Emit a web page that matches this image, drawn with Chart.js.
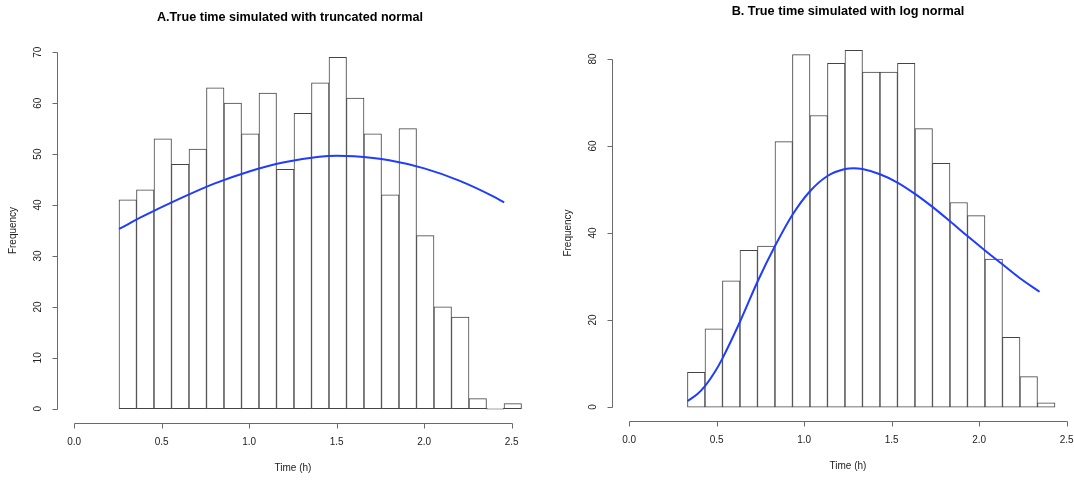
<!DOCTYPE html>
<html>
<head>
<meta charset="utf-8">
<script src="https://cdn.jsdelivr.net/npm/chart.js@4.4.1/dist/chart.umd.min.js"></script>
<style>
  body { margin: 0; background: #fff; }
  .wrap { position: relative; width: 1074px; height: 480px; overflow: hidden; }
  canvas { position: absolute; top: 0; }
</style>
</head>
<body>
<div class="wrap">
  <canvas id="histA" width="537" height="480" style="left:0"></canvas>
  <canvas id="histB" width="548" height="480" style="left:537px"></canvas>
</div>
<script>
// tick labels
const xTicks = [0, 0.5, 1.0, 1.5, 2.0, 2.5];
const truncYTicks = [0, 10, 20, 30, 40, 50, 60, 70];
const logYTicks = [0, 20, 40, 60, 80];

// A: truncated normal
const truncBreaks = [0.256, 0.356, 0.456, 0.556, 0.656, 0.756, 0.856, 0.956, 1.056, 1.156, 1.256, 1.356,
                     1.456, 1.556, 1.656, 1.756, 1.856, 1.956, 2.056, 2.156, 2.256, 2.356, 2.456, 2.556];
const truncCounts = [41, 43, 53, 48, 51, 63, 60, 54, 62, 47, 58, 64, 69, 61, 54, 42, 55, 34, 20, 18, 2, 0, 1];
const truncCurveX = [0.256, 0.4, 0.6, 0.8, 1.0, 1.2, 1.4, 1.5, 1.6, 1.8, 2.0, 2.2, 2.4, 2.457];
const truncCurveY = [35.3, 37.9, 41.2, 44.2, 46.6, 48.4, 49.5, 49.7, 49.6, 48.8, 47.2, 44.8, 41.6, 40.5];

// B: log normal
const logBreaks = [0.333, 0.433, 0.533, 0.633, 0.733, 0.833, 0.933, 1.033, 1.133, 1.233, 1.333,
                   1.433, 1.533, 1.633, 1.733, 1.833, 1.933, 2.033, 2.133, 2.233, 2.333, 2.433];
const logCounts = [8, 18, 29, 36, 37, 61, 81, 67, 79, 82, 77, 77, 79, 64, 56, 47, 44, 34, 16, 7, 1];
const logCurveX = [0.333, 0.39, 0.433, 0.49, 0.533, 0.633, 0.733, 0.833, 0.933, 1.033, 1.133, 1.233, 1.284,
                   1.333, 1.433, 1.533, 1.633, 1.733, 1.833, 1.933, 2.033, 2.133, 2.233, 2.345];
const logCurveY = [1.4, 3.0, 4.8, 8.1, 11.2, 19.6, 28.8, 37.0, 44.2, 49.6, 53.1, 54.7, 54.9,
                   54.7, 53.5, 51.6, 49.0, 46.0, 42.7, 39.3, 36.0, 32.8, 29.6, 26.5];

const FONT = '"Liberation Sans", Arial, Helvetica, sans-serif';

// draws base-R style axes (axis line only between first and last tick)
const rAxes = {
  id: 'rAxes',
  afterDraw(chart) {
    const o = chart.options.plugins.rAxes;
    const { ctx, chartArea: a } = chart;
    const x = chart.scales.x, y = chart.scales.y;
    ctx.save();
    ctx.strokeStyle = '#6a6a6a';
    ctx.lineWidth = 1;
    ctx.fillStyle = '#222';
    ctx.font = '10px ' + FONT;

    // x axis
    const yb = Math.round(a.bottom) + 0.5;
    ctx.beginPath();
    ctx.moveTo(Math.round(x.getPixelForValue(o.xTicks[0])) + 0.5, yb);
    ctx.lineTo(Math.round(x.getPixelForValue(o.xTicks[o.xTicks.length - 1])) + 0.5, yb);
    o.xTicks.forEach(t => {
      const px = Math.round(x.getPixelForValue(t)) + 0.5;
      ctx.moveTo(px, yb);
      ctx.lineTo(px, yb + 5);
    });
    ctx.stroke();
    ctx.textAlign = 'center';
    ctx.textBaseline = 'middle';
    o.xTicks.forEach(t => ctx.fillText(t.toFixed(1), x.getPixelForValue(t), a.bottom + 19));
    ctx.fillText(o.xTitle, (a.left + a.right) / 2, a.bottom + 45);

    // y axis
    const xl = Math.round(a.left) + 0.5;
    ctx.beginPath();
    ctx.moveTo(xl, Math.round(y.getPixelForValue(o.yTicks[0])) + 0.5);
    ctx.lineTo(xl, Math.round(y.getPixelForValue(o.yTicks[o.yTicks.length - 1])) + 0.5);
    o.yTicks.forEach(t => {
      const py = Math.round(y.getPixelForValue(t)) + 0.5;
      ctx.moveTo(xl, py);
      ctx.lineTo(xl - 5, py);
    });
    ctx.stroke();
    o.yTicks.forEach(t => {
      ctx.save();
      ctx.translate(a.left - 18, y.getPixelForValue(t));
      ctx.rotate(-Math.PI / 2);
      ctx.fillText(String(t), 0, 0);
      ctx.restore();
    });
    ctx.save();
    ctx.translate(a.left - 43, (a.top + a.bottom) / 2);
    ctx.rotate(-Math.PI / 2);
    ctx.fillText(o.yTitle, 0, 0);
    ctx.restore();

    // main title
    ctx.fillStyle = '#000';
    ctx.font = 'bold ' + o.titleSize + 'px ' + FONT;
    ctx.fillText(o.title, (a.left + a.right) / 2 + o.titleShift, o.titleY);
    ctx.restore();
  }
};

function makeHist(id, breaks, counts, curveX, curveY, yTicks, yMax, title, titleY, titleSize, titleShift, padding) {
  const bars = counts.map((c, i) => ({ x: (breaks[i] + breaks[i + 1]) / 2, y: c }));
  const curve = curveX.map((v, i) => ({ x: v, y: curveY[i] }));
  // R pads the range by 4% on each side
  const xPad = (xTicks[xTicks.length - 1] - xTicks[0]) * 0.04;
  const yPad = yMax * 0.04;
  return new Chart(document.getElementById(id), {
    data: {
      datasets: [
        {
          type: 'line',
          data: curve,
          borderColor: '#1f3cff',
          borderWidth: 2,
          pointRadius: 0,
          cubicInterpolationMode: 'monotone',
          order: 0
        },
        {
          type: 'bar',
          data: bars,
          backgroundColor: '#fff',
          borderColor: '#444',
          borderWidth: 1,
          borderSkipped: false,
          minBarLength: 1,
          barPercentage: 1,
          categoryPercentage: 1,
          order: 1
        }
      ]
    },
    options: {
      responsive: false,
      animation: false,
      layout: { padding: padding },
      scales: {
        x: { type: 'linear', display: false, offset: false, min: xTicks[0] - xPad, max: xTicks[xTicks.length - 1] + xPad },
        y: { type: 'linear', display: false, min: -yPad, max: yMax + yPad }
      },
      plugins: {
        legend: { display: false },
        tooltip: { enabled: false },
        rAxes: { xTicks: xTicks, yTicks: yTicks, xTitle: 'Time (h)', yTitle: 'Frequency',
                 title: title, titleY: titleY, titleSize: titleSize, titleShift: titleShift }
      }
    },
    plugins: [rAxes]
  });
}

makeHist('histA', truncBreaks, truncCounts, truncCurveX, truncCurveY, truncYTicks, 70,
  'A.True time simulated with truncated normal', 18, 12.6, -3, { left: 56.7, right: 7.8, top: 38, bottom: 57 });
makeHist('histB', logBreaks, logCounts, logCurveX, logCurveY, logYTicks, 80,
  'B. True time simulated with log normal', 11, 12.7, 0, { left: 74.7, right: 0.8, top: 45, bottom: 59 });
</script>
</body>
</html>
